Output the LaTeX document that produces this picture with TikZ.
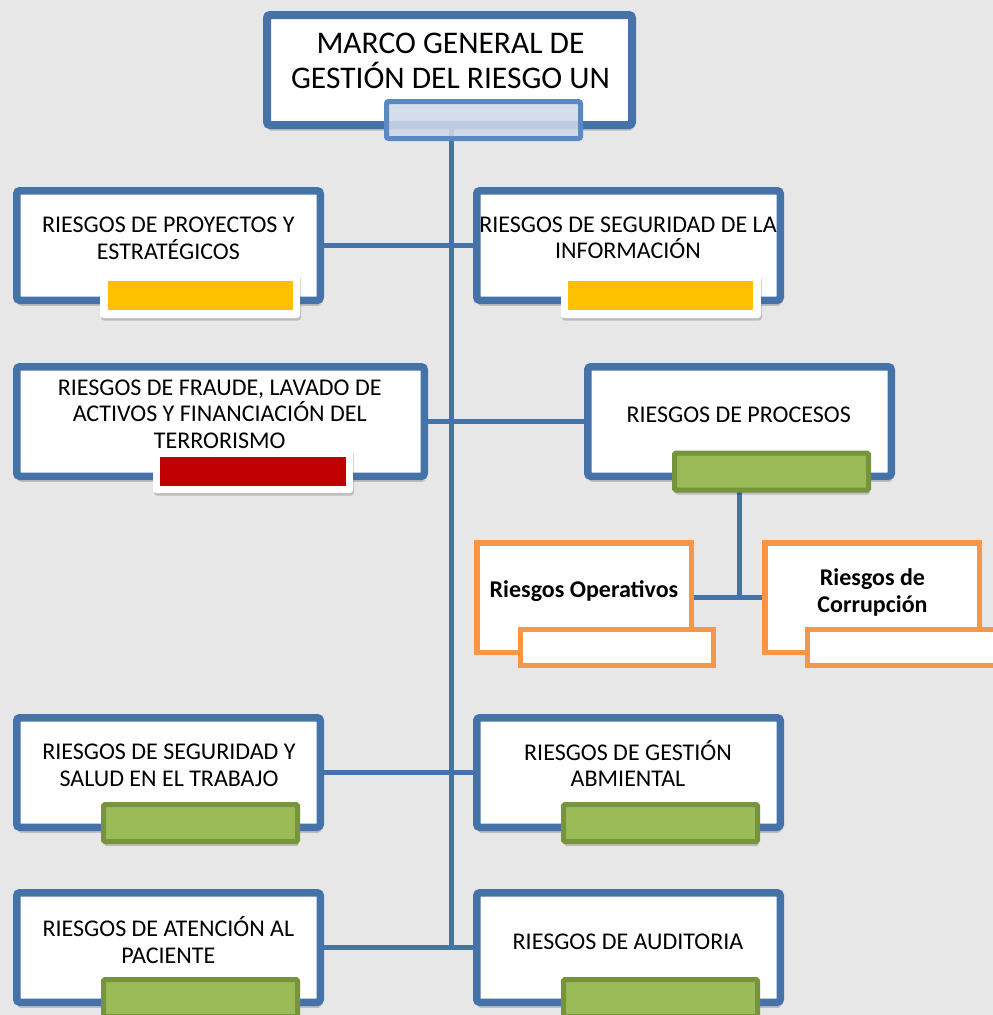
\documentclass[tikz,border=0pt]{standalone}
\usepackage{fontspec}
\setmainfont{Carlito}
\usetikzlibrary{shadows}

\definecolor{bgcol}{RGB}{231,231,231}
\definecolor{rblue}{RGB}{70,114,170}
\definecolor{barblue}{RGB}{90,137,196}
\definecolor{barfill}{RGB}{208,216,233}
\definecolor{rorange}{RGB}{247,150,70}
\definecolor{rgreen}{RGB}{155,187,89}
\definecolor{rgreendk}{RGB}{119,147,60}
\definecolor{ryellow}{RGB}{255,192,0}
\definecolor{rred}{RGB}{192,0,0}

\pgfdeclarelayer{canvas}
\pgfdeclarelayer{wires}
\pgfsetlayers{canvas,wires,main}

\tikzset{
  % soft offset shadow; the shift clears the stroke width of each shape
  soft/.style={drop shadow={shadow xshift=1pt, shadow yshift=-#1, opacity=0.18, fill=black}},
  soft/.default=5.5pt,
  riskbox/.style={draw=rblue, line width=7.5pt, fill=white, rounded corners=3pt,
      inner sep=0pt, outer sep=0pt, soft},
  headbox/.style={draw=rblue, line width=8pt, fill=white, rounded corners=3pt,
      inner sep=0pt, outer sep=0pt, soft},
  subbox/.style={draw=rorange, line width=5.5pt, fill=white, inner sep=0pt, outer sep=0pt},
  headbar/.style={draw=barblue, line width=5pt, fill=barfill, fill opacity=0.88,
      rounded corners=2pt, inner sep=0pt, outer sep=0pt},
  tagback/.style={fill=white, rounded corners=3pt, inner sep=0pt, outer sep=0pt,
      minimum width=200pt, minimum height=44pt, soft=2.5pt},
  tagcore/.style={inner sep=0pt, outer sep=0pt, minimum width=185pt, minimum height=29pt},
  greentag/.style={draw=rgreendk, line width=5pt, fill=rgreen, rounded corners=1.5pt,
      inner sep=0pt, outer sep=0pt, minimum width=194pt, minimum height=37pt, soft=4.5pt},
  subtag/.style={draw=rorange, line width=5pt, fill=white, inner sep=0pt, outer sep=0pt,
      minimum width=193pt, minimum height=36pt},
  wire/.style={draw=rblue, line width=5pt},
  txt/.style={font=\fontsize{24}{26.5}\selectfont, align=center, inner sep=0pt},
  btxt/.style={font=\fontsize{24}{26.5}\selectfont\bfseries, align=center, inner sep=0pt},
}

\begin{document}
\begin{tikzpicture}[x=1pt,y=-1pt]
  % canvas
  \begin{pgfonlayer}{canvas}
    \fill[bgcol] (0,0) rectangle (993,1015);
  \end{pgfonlayer}
  \useasboundingbox (0,0) rectangle (993,1015);
  \clip (0,0) rectangle (993,1015);

  % head box
  \node[headbox, minimum width=365pt, minimum height=110pt] (top) at (449.5,70) {};
  \node[inner sep=0pt, align=center, font=\fontsize{31.5}{35}\selectfont] (ttop) at (450.5,61)
    {MARCO GENERAL DE\\GESTIÓN DEL RIESGO UN};
  \node[headbar, minimum width=194pt, minimum height=37pt] (lbl0) at (483.5,120) {};

  % first row
  \node[riskbox, minimum width=303.5pt, minimum height=109.5pt] (L1) at (168.5,245.5) {};
  \node[txt] (tL1) at (168.4,238.5) {RIESGOS DE PROYECTOS Y\\ESTRATÉGICOS};
  \node[tagback] (wL1) at (200,296) {};
  \node[tagcore, fill=ryellow] (yL1) at (200.5,295.5) {};

  \node[riskbox, minimum width=303.5pt, minimum height=109.5pt] (R1) at (628.5,245.5) {};
  \node[txt] (tR1) at (628,238) {RIESGOS DE SEGURIDAD DE LA\\INFORMACIÓN};
  \node[tagback] (wR1) at (661,296) {};
  \node[tagcore, fill=ryellow] (yR1) at (660.5,295.5) {};

  % second row
  \node[riskbox, minimum width=407.5pt, minimum height=109.5pt] (L2) at (220.5,421.5) {};
  \node[txt] (tL2) at (219.7,414) {RIESGOS DE FRAUDE, LAVADO DE\\ACTIVOS Y FINANCIACIÓN DEL\\TERRORISMO};
  \node[tagback] (wL2) at (253,471) {};
  \node[tagcore, fill=rred, minimum width=186pt] (rL2) at (253,471.5) {};

  \node[riskbox, minimum width=303.5pt, minimum height=109.5pt] (R2) at (739.5,421.5) {};
  \node[txt] (tR2) at (738.7,415) {RIESGOS DE PROCESOS};
  \node[greentag] (gR2) at (771.5,471.5) {};

  % process branch
  \node[subbox, minimum width=214.5pt, minimum height=109.5pt] (Op) at (584,597.5) {};
  \node[btxt] (tOp) at (584,591.5) {Riesgos Operativos};
  \node[subtag] (sOp) at (617,647.5) {};

  \node[subbox, minimum width=214.5pt, minimum height=109.5pt] (Corr) at (872,597.5) {};
  \node[btxt] (tCorr) at (872.5,592.5) {Riesgos de\\Corrupción};
  \node[subtag] (sCorr) at (904,647.5) {};

  % third row
  \node[riskbox, minimum width=303.5pt, minimum height=109.5pt] (L3) at (168.5,772.5) {};
  \node[txt] (tL3) at (169,765.5) {RIESGOS DE SEGURIDAD Y\\SALUD EN EL TRABAJO};
  \node[greentag] (gL3) at (200.5,823) {};

  \node[riskbox, minimum width=303.5pt, minimum height=109.5pt] (R3) at (628.5,772.5) {};
  \node[txt] (tR3) at (628,763.5) {RIESGOS DE GESTIÓN\\ABMIENTAL};
  \node[greentag] (gR3) at (660.5,823) {};

  % fourth row
  \node[riskbox, minimum width=303.5pt, minimum height=109.5pt] (L4) at (168.5,947.5) {};
  \node[txt] (tL4) at (168.4,940) {RIESGOS DE ATENCIÓN AL\\PACIENTE};
  \node[greentag] (gL4) at (200.5,998) {};

  \node[riskbox, minimum width=303.5pt, minimum height=109.5pt] (R4) at (628.5,947.5) {};
  \node[txt] (tR4) at (628,941.4) {RIESGOS DE AUDITORIA};
  \node[greentag] (gR4) at (660.5,998) {};

  % connectors
  \coordinate (trunkEnd) at (451,950);
  \begin{pgfonlayer}{wires}
    \draw[wire] (lbl0.center -| trunkEnd) -- (trunkEnd);
    \draw[wire] (L1.east) -- (R1.west);
    \draw[wire] (L2.east) -- (R2.west);
    \draw[wire] (L3.east) -- (R3.west);
    \draw[wire] (L4.east) -- (R4.west);
    \draw[wire] (R2.south) -- (R2.south |- Op.east);
    \draw[wire] (Op.east) -- (Corr.west);
  \end{pgfonlayer}
\end{tikzpicture}
\end{document}
